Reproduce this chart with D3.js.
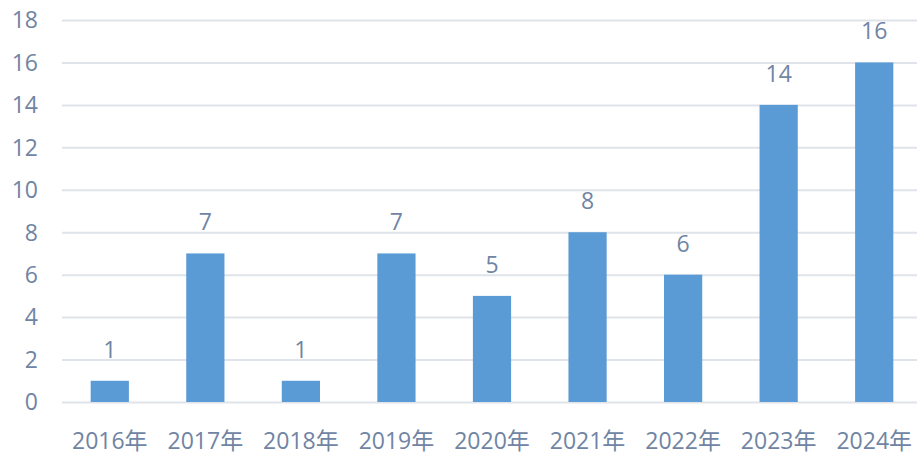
<!DOCTYPE html>
<html>
<head>
<meta charset="utf-8">
<script src="https://cdn.jsdelivr.net/npm/d3@7"></script>
<style>
  html, body { margin: 0; padding: 0; background: #fff; }
  svg { display: block; }
  text { font-family: "Open Sans", "Noto Sans CJK SC", sans-serif; fill: #7084a3; }
</style>
</head>
<body>
<svg id="chart" width="917" height="454"></svg>
<script>
// Yearly counts
const years = ["2016年", "2017年", "2018年", "2019年", "2020年", "2021年", "2022年", "2023年", "2024年"];
const counts = [1, 7, 1, 7, 5, 8, 6, 14, 16];
const yTicks = [0, 2, 4, 6, 8, 10, 12, 14, 16, 18];

const svg = d3.select("#chart");
const plotLeft = 62, plotRight = 922, plotTop = 20, plotBottom = 402;

const x = d3.scaleBand().domain(years).range([plotLeft, plotRight]).paddingInner(0.6).paddingOuter(0.3);
const y = d3.scaleLinear().domain([0, 18]).range([plotBottom, plotTop]);

// horizontal gridlines + y tick labels
const yAxis = d3.axisLeft(y).tickValues(yTicks).tickSize(-(917 - plotLeft)).tickPadding(24);
const gy = svg.append("g").attr("transform", `translate(${plotLeft},0)`).call(yAxis);
gy.select(".domain").remove();
gy.selectAll(".tick line").attr("stroke", "#dfe3ea").attr("stroke-width", 2);
gy.selectAll(".tick text").attr("font-size", 23).attr("x", -24).attr("dy", "0.34em")
  .style("fill", "#7084a3");

// bars
svg.append("g").selectAll("rect").data(counts).join("rect")
  .attr("x", (d, i) => x(years[i]))
  .attr("width", x.bandwidth())
  .attr("y", d => y(d))
  .attr("height", d => y(0) - y(d))
  .attr("fill", "#5b9bd5");

// value labels
svg.append("g").selectAll("text").data(counts).join("text")
  .attr("x", (d, i) => x(years[i]) + x.bandwidth() / 2)
  .attr("y", d => y(d) - 23)
  .attr("text-anchor", "middle")
  .attr("font-size", 23)
  .text(d => d);

// category labels
const xAxis = d3.axisBottom(x).tickSize(0).tickPadding(0);
const gx = svg.append("g").attr("transform", `translate(0,${plotBottom})`).call(xAxis);
gx.select(".domain").remove();
gx.selectAll(".tick text").attr("font-size", 23).attr("y", 47).attr("dy", 0)
  .style("fill", "#7084a3");
</script>
</body>
</html>
